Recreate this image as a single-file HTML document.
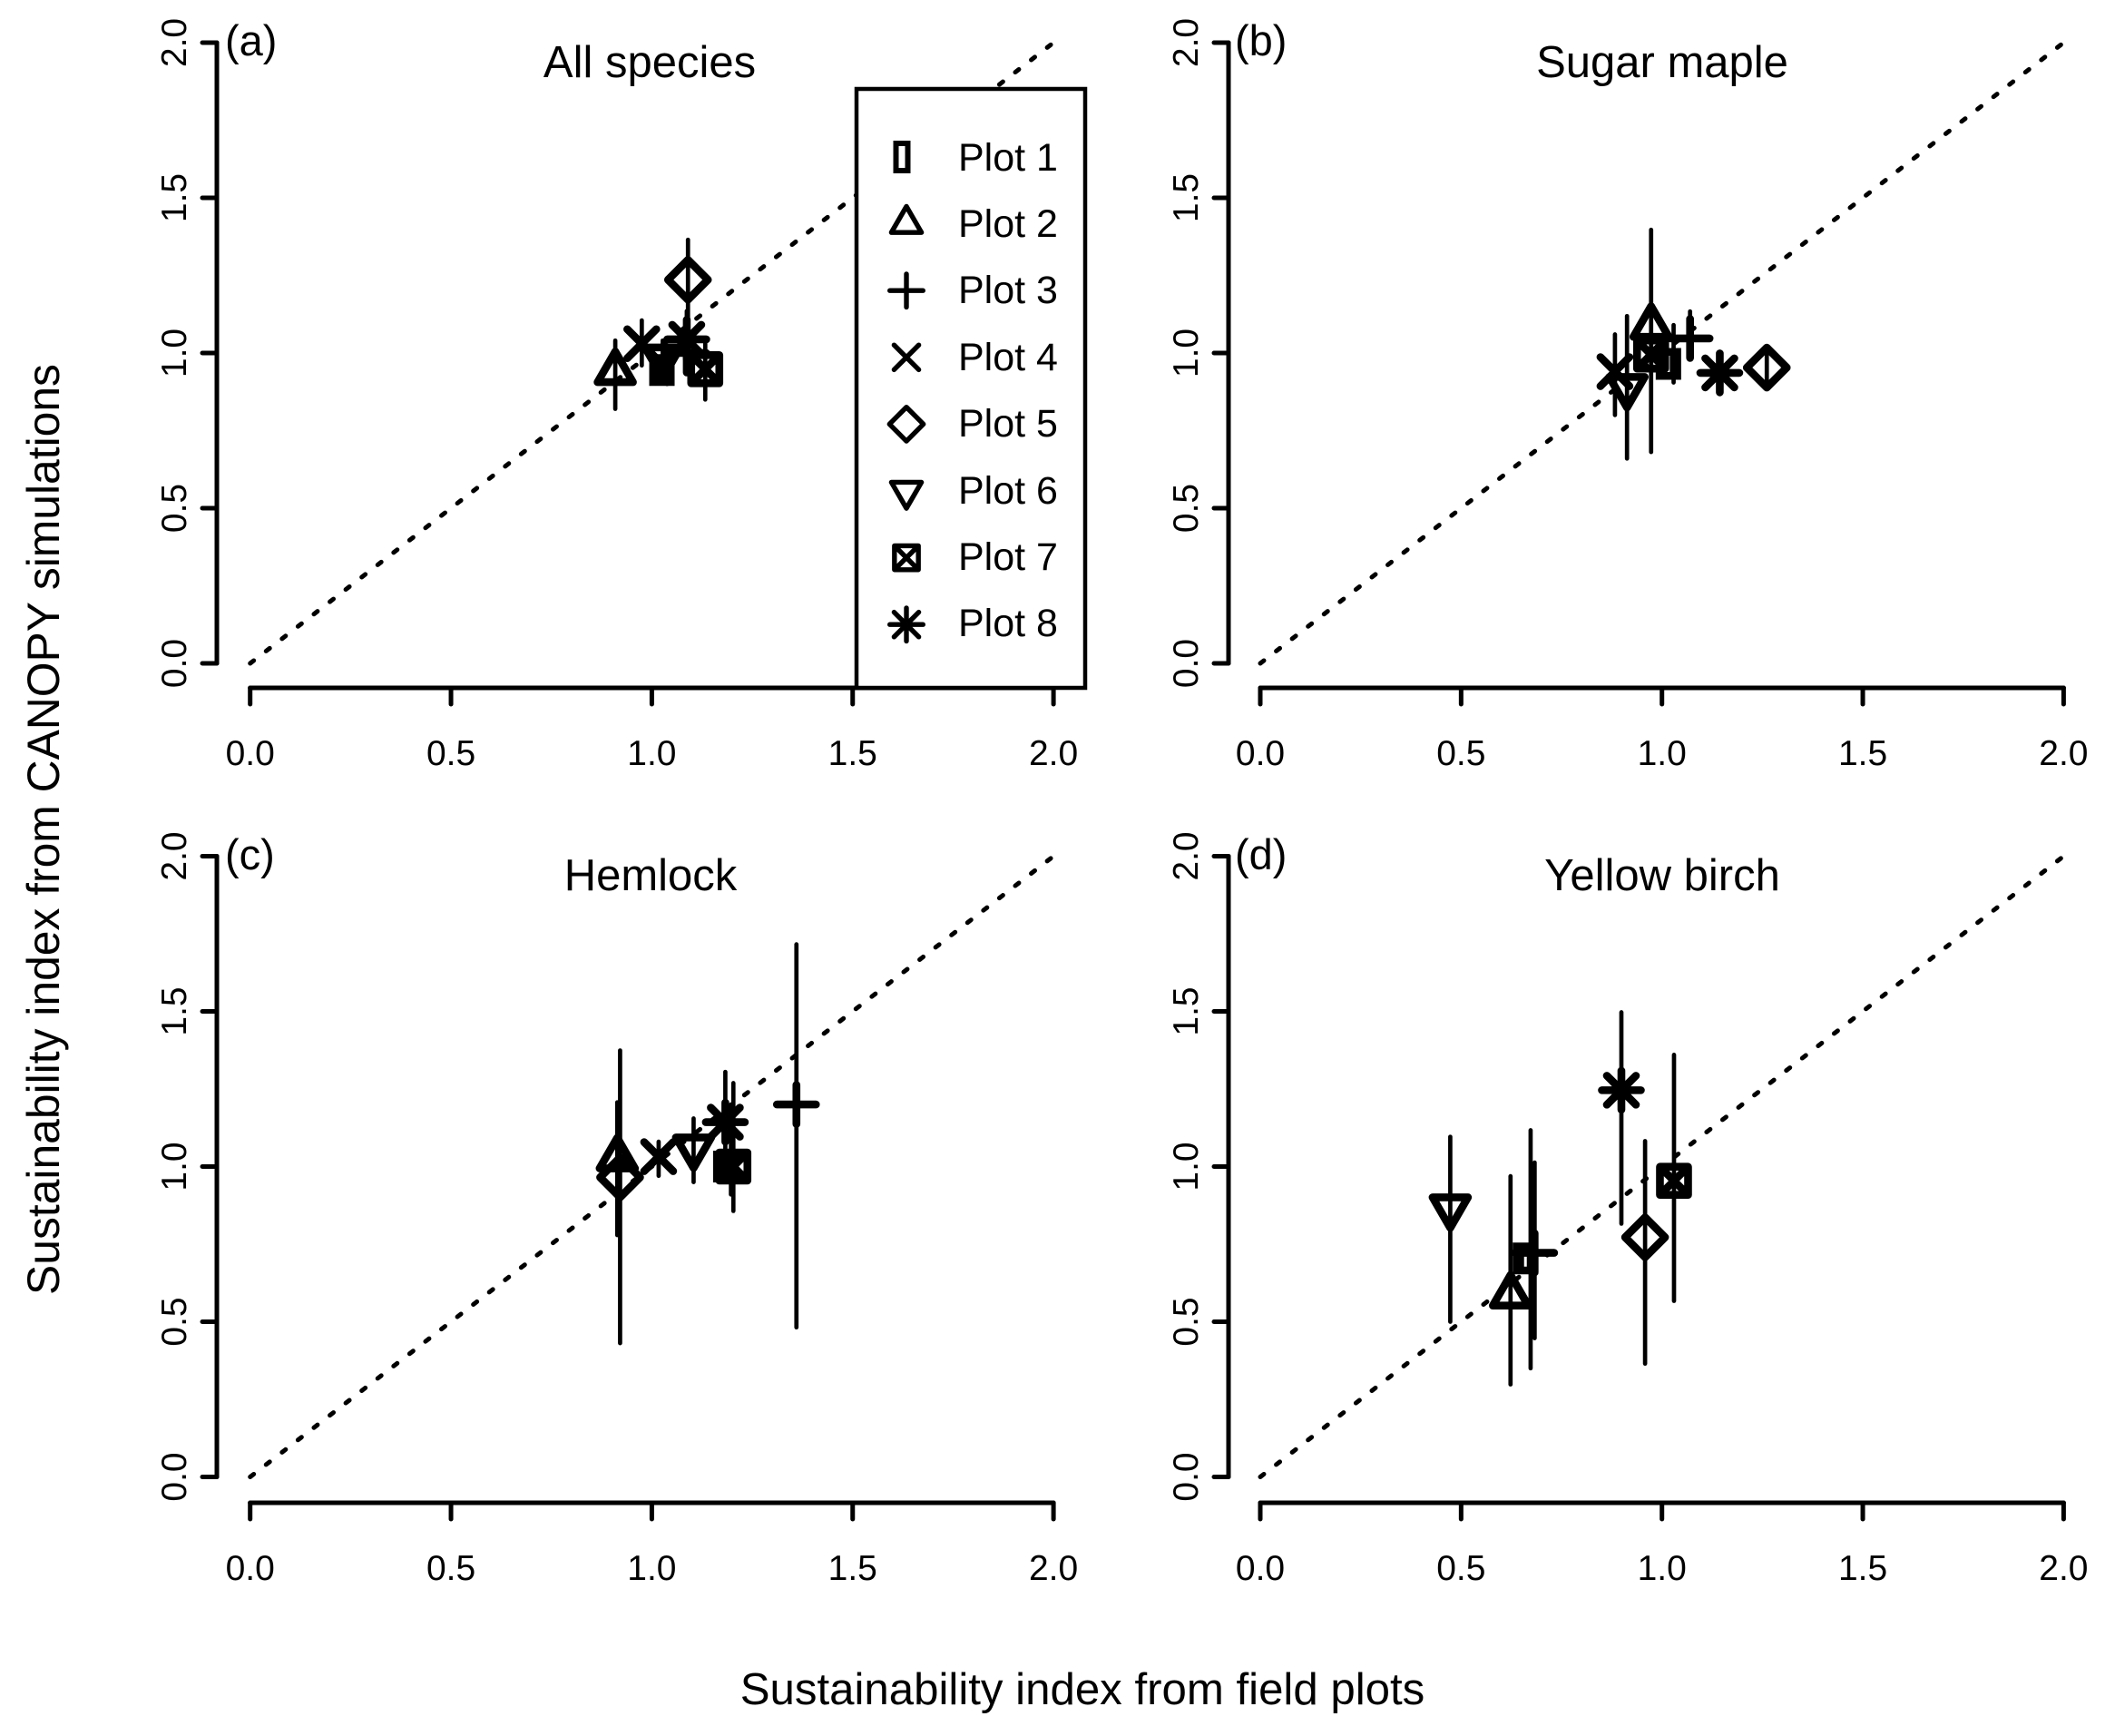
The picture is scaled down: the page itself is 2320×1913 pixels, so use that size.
<!DOCTYPE html>
<html lang="en">
<head>
<meta charset="utf-8">
<title>Sustainability index: CANOPY simulations vs field plots</title>
<style>
html,body{margin:0;padding:0;background:#fff}
svg{display:block}
text{font-family:"Liberation Sans",Arial,sans-serif;fill:#000}
.tick{font-size:39px}
.title{font-size:49px}
.letter{font-size:47px}
.legend{font-size:43px}
</style>
</head>
<body>
<svg id="chart" width="2320" height="1913" viewBox="0 0 2320 1913" xmlns="http://www.w3.org/2000/svg">
  <rect x="0" y="0" width="2320" height="1913" fill="#fff"/>

  <g id="panel-a">
    <text class="title" x="716" y="85" text-anchor="middle">All species</text>
    <text class="letter" x="248" y="61">(a)</text>
  </g>
  <g id="panel-b">
    <text class="title" x="1832" y="85" text-anchor="middle">Sugar maple</text>
    <text class="letter" x="1361" y="61">(b)</text>
  </g>
  <g id="panel-c">
    <text class="title" x="717" y="981" text-anchor="middle">Hemlock</text>
    <text class="letter" x="248" y="958">(c)</text>
  </g>
  <g id="panel-d">
    <text class="title" x="1832" y="981" text-anchor="middle">Yellow birch</text>
    <text class="letter" x="1361" y="958">(d)</text>
  </g>

  <text class="title" style="font-size:49.8px" transform="translate(65,914) rotate(-90)" text-anchor="middle">Sustainability index from CANOPY simulations</text>
  <text class="title" style="font-size:49.2px" x="1193" y="1878" text-anchor="middle">Sustainability index from field plots</text>

  <g id="legend">
    <rect x="944" y="98" width="252" height="660" fill="#fff" stroke="#000" stroke-width="4.5"/>
    <text class="legend" x="1056" y="188">Plot 1</text>
    <text class="legend" x="1056" y="261">Plot 2</text>
    <text class="legend" x="1056" y="334">Plot 3</text>
    <text class="legend" x="1056" y="408">Plot 4</text>
    <text class="legend" x="1056" y="481">Plot 5</text>
    <text class="legend" x="1056" y="555">Plot 6</text>
    <text class="legend" x="1056" y="628">Plot 7</text>
    <text class="legend" x="1056" y="701">Plot 8</text>
  </g>
</svg>
<script>
// Tick values and labels shared by every axis
const tickValues = [0, 0.5, 1, 1.5, 2];
const tickLabels = ["0.0", "0.5", "1.0", "1.5", "2.0"];
// Markers, in order Plot 1 ... Plot 8
const plotSymbols = ["rect", "triangle", "plus", "cross", "diamond", "down", "boxx", "star"];

// (a) All species
const allSpeciesField = [1.038, 0.909, 1.087, 0.975, 1.090, 1.027, 1.133, 1.087];
const allSpeciesSim   = [0.945, 0.939, 1.000, 1.030, 1.236, 0.985, 0.948, 1.044];
const allSpeciesLow   = [0.900, 0.820, 0.940, 0.960, 1.100, 0.930, 0.850, 0.960];
const allSpeciesHigh  = [1.000, 1.040, 1.060, 1.105, 1.365, 1.040, 1.030, 1.135];

// (b) Sugar maple
const sugarMapleField = [1.029, 0.973, 1.070, 0.883, 1.261, 0.913, 0.973, 1.144];
const sugarMapleSim   = [0.965, 1.085, 1.047, 0.940, 0.953, 0.890, 0.995, 0.936];
const sugarMapleLow   = [0.905, 0.681, 1.000, 0.800, 0.900, 0.660, 0.950, 0.870];
const sugarMapleHigh  = [1.090, 1.397, 1.134, 1.060, 1.000, 1.119, 1.050, 1.000];

// (c) Hemlock
const hemlockField = [1.197, 0.914, 1.360, 1.017, 0.921, 1.104, 1.203, 1.183];
const hemlockSim   = [1.000, 1.027, 1.200, 1.032, 0.965, 1.061, 1.000, 1.143];
const hemlockLow   = [0.910, 0.779, 0.482, 0.970, 0.431, 0.950, 0.857, 0.980];
const hemlockHigh  = [1.200, 1.207, 1.716, 1.080, 1.374, 1.155, 1.269, 1.305];

// (d) Yellow birch (no Plot 4 value)
const yellowBirchField = [0.673, 0.623, 0.683, null, 0.958, 0.473, 1.030, 0.899];
const yellowBirchSim   = [0.704, 0.585, 0.722, null, 0.772, 0.868, 0.954, 1.246];
const yellowBirchLow   = [0.350, 0.298, 0.447, null, 0.365, 0.500, 0.567, 0.816];
const yellowBirchHigh  = [1.117, 0.969, 1.013, null, 1.082, 1.096, 1.360, 1.497];

const NS = "http://www.w3.org/2000/svg";
const unitX = 442.7;
const unitY = 342;

function makeX(x0) { return function (v) { return x0 + v * unitX; }; }
function makeY(y0) { return function (v) { return y0 - v * unitY; }; }

function shape(tag, attrs, parent) {
  const el = document.createElementNS(NS, tag);
  for (const k in attrs) el.setAttribute(k, attrs[k]);
  parent.appendChild(el);
  return el;
}

function rectPath(cx, cy, oW, oH, iW, iH) {
  const box = (w, h) => "M" + (cx - w) + " " + (cy - h) + "H" + (cx + w) + "V" + (cy + h) + "H" + (cx - w) + "Z";
  return box(oW, oH) + box(iW, iH);
}

function markerPath(kind, cx, cy, s) {
  const seg = (x1, y1, x2, y2) => "M" + (cx + x1 * s) + " " + (cy + y1 * s) + "L" + (cx + x2 * s) + " " + (cy + y2 * s);
  if (kind === "triangle") {
    return "M" + cx + " " + (cy - 22.5 * s) + "L" + (cx + 19.5 * s) + " " + (cy + 11.25 * s) + "L" + (cx - 19.5 * s) + " " + (cy + 11.25 * s) + "Z";
  }
  if (kind === "down") {
    return "M" + cx + " " + (cy + 22.5 * s) + "L" + (cx + 19.5 * s) + " " + (cy - 11.25 * s) + "L" + (cx - 19.5 * s) + " " + (cy - 11.25 * s) + "Z";
  }
  if (kind === "plus") return seg(-21.5, 0, 21.5, 0) + seg(0, -21.5, 0, 21.5);
  if (kind === "cross") return seg(-16, -16, 16, 16) + seg(-16, 16, 16, -16);
  if (kind === "diamond") {
    return "M" + cx + " " + (cy - 22 * s) + "L" + (cx + 22 * s) + " " + cy + "L" + cx + " " + (cy + 22 * s) + "L" + (cx - 22 * s) + " " + cy + "Z";
  }
  if (kind === "boxx") {
    const h = 15.5 * s;
    return "M" + (cx - h) + " " + (cy - h) + "L" + (cx + h) + " " + (cy - h) + "L" + (cx + h) + " " + (cy + h) + "L" + (cx - h) + " " + (cy + h) + "Z" + seg(-15.5, -15.5, 15.5, 15.5) + seg(-15.5, 15.5, 15.5, -15.5);
  }
  return seg(-21.5, 0, 21.5, 0) + seg(0, -21.5, 0, 21.5) + seg(-16, -16, 16, 16) + seg(-16, 16, 16, -16);
}

function drawPanel(id, x0, y0, axisX, axisY, field, sim, low, high) {
  const g = document.getElementById(id);
  const X = makeX(x0);
  const Y = makeY(y0);
  const base = { stroke: "#000", "stroke-width": 5, fill: "none", "stroke-linecap": "round" };

  const ref = shape("line", Object.assign({}, base, { x1: X(0), y1: Y(0), x2: X(2), y2: Y(2), "stroke-dasharray": "5 17.2" }), g);
  
  

  const xAxis = shape("line", Object.assign({}, base, { x1: X(tickValues[0]), y1: axisY, x2: X(tickValues[tickValues.length - 1]), y2: axisY }), g);
  
  
  const yAxis = shape("line", Object.assign({}, base, { x1: axisX, y1: Y(tickValues[0]), x2: axisX, y2: Y(tickValues[tickValues.length - 1]) }), g);
  
  

  tickValues.forEach(function (v, i) {
    const xt = shape("line", Object.assign({}, base, { x1: X(v), y1: axisY, x2: X(v), y2: axisY + 18 }), g);
    
    
    const yt = shape("line", Object.assign({}, base, { x1: axisX, y1: Y(v), x2: axisX - 16, y2: Y(v) }), g);
    
    

    const xl = shape("text", { class: "tick", x: X(v), y: axisY + 85, "text-anchor": "middle" }, g);
    xl.textContent = tickLabels[i];
    
    
    const yl = shape("text", { class: "tick", "text-anchor": "middle", transform: "translate(" + (axisX - 34) + "," + Y(v) + ") rotate(-90)" }, g);
    yl.textContent = tickLabels[i];
    
    
  });

  field.forEach(function (fv, i) {
    if (fv === null) return;
    const bar = shape("line", { x1: X(fv), y1: Y(low[i]), x2: X(fv), y2: Y(high[i]), stroke: "#000", "stroke-width": 4.7, "stroke-linecap": "round" }, g);
    
    
    let mark;
    if (plotSymbols[i] === "rect") {
      mark = shape("path", { d: rectPath(X(fv) - 5.7, Y(sim[i]), 14, 17.5, 1.5, 9), fill: "#000", "fill-rule": "evenodd", stroke: "none" }, g);
    } else {
      mark = shape("path", { d: markerPath(plotSymbols[i], X(fv), Y(sim[i]), 1), fill: "none", stroke: "#000", "stroke-width": 8.6, "stroke-linejoin": "round", "stroke-linecap": "round" }, g);
    }
    
    
  });
}

drawPanel("panel-a", 275.7, 731, 239, 758, allSpeciesField, allSpeciesSim, allSpeciesLow, allSpeciesHigh);
drawPanel("panel-b", 1389, 731, 1354, 758, sugarMapleField, sugarMapleSim, sugarMapleLow, sugarMapleHigh);
drawPanel("panel-c", 275.7, 1627.5, 239, 1656, hemlockField, hemlockSim, hemlockLow, hemlockHigh);
drawPanel("panel-d", 1389, 1627.5, 1354, 1656, yellowBirchField, yellowBirchSim, yellowBirchLow, yellowBirchHigh);

const legendGroup = document.getElementById("legend");
plotSymbols.forEach(function (kind, i) {
  const cy = 173 + i * 73.6;
  let sym;
  if (kind === "rect") {
    sym = shape("path", { d: rectPath(994, cy, 9.5, 18, 3.5, 12), fill: "#000", "fill-rule": "evenodd", stroke: "none" }, legendGroup);
  } else {
    sym = shape("path", { d: markerPath(kind, 999, cy, 0.85), fill: "none", stroke: "#000", "stroke-width": 5.4, "stroke-linejoin": "round", "stroke-linecap": "round" }, legendGroup);
  }
  
  
});
</script>
</body>
</html>
